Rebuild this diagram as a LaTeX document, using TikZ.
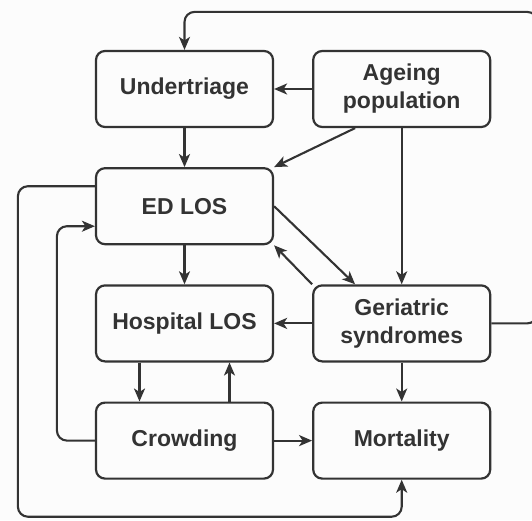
\documentclass[tikz,border=0pt]{standalone}
\usepackage{fontspec}
\setmainfont{Liberation Sans}
\usetikzlibrary{positioning,calc,arrows.meta}

\definecolor{ink}{HTML}{333333}
\definecolor{paper}{HTML}{FCFCFC}

\tikzset{
  factor/.style={draw=ink, line width=2.2pt, rounded corners=9pt, fill=paper,
    minimum width=177pt, minimum height=76pt, align=center, text=ink,
    font=\bfseries\fontsize{23}{28}\selectfont},
  conn/.style={draw=ink, line width=2.1pt, rounded corners=10pt,
    -{Stealth[length=13pt,width=11pt,inset=3.5pt]}}
}

\begin{document}
\begin{tikzpicture}[x=1pt,y=1pt,node distance=39pt and 38pt]
    \fill[paper,use as bounding box] (0,0) rectangle (532,-520);
    % boxes
    \node[factor] (under) at (184.5,-89) {Undertriage};
    \node[factor,right=of under] (ageing) {Ageing\\population};
    \node[factor,below=of under] (edlos) {ED LOS};
    \node[factor,below=of edlos] (hosp) {Hospital LOS};
    \node[factor,right=of hosp] (geri) {Geriatric\\syndromes};
    \node[factor,below=of hosp] (crowd) {Crowding};
    \node[factor,below=of geri] (mort) {Mortality};
    % straight links
    \draw[conn] (ageing) -- (under);
    \draw[conn] (under) -- (edlos);
    \draw[conn] (ageing.220) -- (edlos.north east);
    \draw[conn] (ageing) -- (geri);
    \draw[conn] (edlos.east) -- (geri.140);
    \draw[conn] (geri.north west) -- (edlos.south east);
    \draw[conn] (edlos) -- (hosp);
    \draw[conn] (geri) -- (hosp);
    \draw[conn] ($(hosp.south)+(-45,0)$) -- ($(crowd.north)+(-45,0)$);
    \draw[conn] ($(crowd.north)+(45,0)$) -- ($(hosp.south)+(45,0)$);
    \draw[conn] (crowd) -- (mort);
    \draw[conn] (geri) -- (mort);
    % loops round the outside
    \draw[conn] (crowd.west) -- ++(-38,0) |- ($(edlos.west)+(0,-20)$);
    \draw[conn] ($(edlos.west)+(0,20)$) -- ++(-77,0) |- ($(mort.south)+(0,-37)$) -- (mort.south);
    \draw[conn] (geri.east) -- ++(46,0) |- ($(under.north)+(0,38)$) -- (under.north);
\end{tikzpicture}
\end{document}
